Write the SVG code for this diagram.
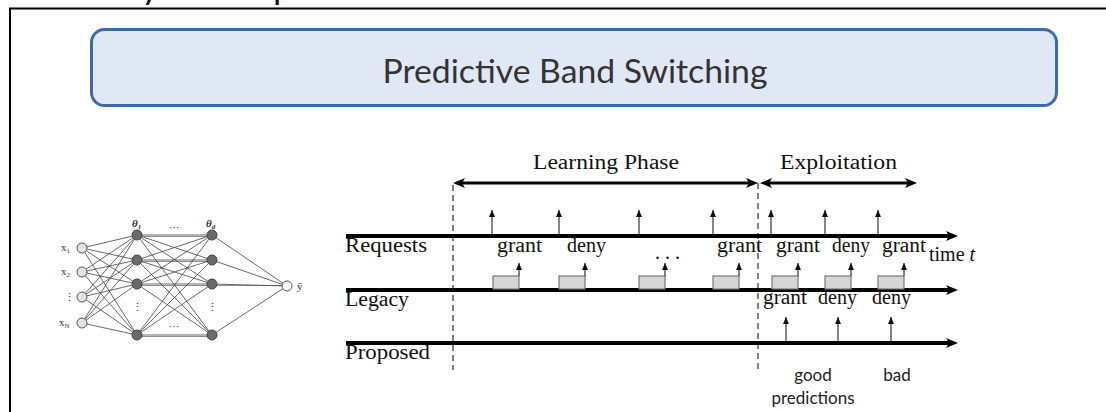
<svg xmlns="http://www.w3.org/2000/svg" width="1106" height="412" viewBox="0 0 1106 412">
<style>
.serif{font-family:"Liberation Serif","DejaVu Serif",serif;fill:#111;}
.lbl{font-size:20px;}
.sans{font-family:Lato,"Open Sans",sans-serif;fill:#222;}
.tl{stroke:#000;stroke-width:4;fill:none;}
.ph{stroke:#000;stroke-width:3;fill:none;}
.req{stroke:#333;stroke-width:1.2;fill:none;}
.dash{stroke:#000;stroke-width:1;stroke-dasharray:6 4;fill:none;}
.box{fill:#d6d6d6;stroke:#777;stroke-width:1.2;}
.nn{stroke:#444;stroke-width:0.8;fill:none;}
.in{fill:#e2e2e2;stroke:#555;stroke-width:1;}
.hid{fill:#6a6a6a;stroke:#444;stroke-width:1;}
.out{fill:#fff;stroke:#555;stroke-width:1;}
.nnl{font-family:"Liberation Serif","DejaVu Serif",serif;font-size:11px;fill:#333;}
</style>
<defs>
<marker id="big" viewBox="0 0 12 10" refX="4" refY="5" markerWidth="12" markerHeight="10" markerUnits="userSpaceOnUse" orient="auto-start-reverse"><path d="M0,0 L12,5 L0,10 L3,5 z" fill="#000"/></marker>
<marker id="sm" viewBox="0 0 7 6" refX="7" refY="3" markerWidth="7" markerHeight="6" markerUnits="userSpaceOnUse" orient="auto"><path d="M0,0 L7,3 L0,6 z" fill="#111"/></marker>
</defs>
<rect width="1106" height="412" fill="#fff"/>
<!-- cut-off header text fragments -->
<text x="141" y="-1" class="sans" style="font-size:36px;fill:#111">y</text>
<text x="273" y="-1" class="sans" style="font-size:36px;fill:#111">p</text>
<!-- frame -->
<path d="M10,420 L10,8.5 L1110,8.5" fill="none" stroke="#000" stroke-width="2"/>
<!-- title -->
<g id="title">
<rect x="91.5" y="29.5" width="965" height="76" rx="13" fill="#e1e8f5" stroke="#3d6aab" stroke-width="3"/>
<text x="575" y="83" text-anchor="middle" class="sans" style="font-size:33px;fill:#333" textLength="385" lengthAdjust="spacingAndGlyphs">Predictive Band Switching</text>
</g>
<!-- neural network -->
<g id="nn">
<g class="nn">
<path d="M82,248 L137,235 M82,248 L137,260 M82,248 L137,284 M82,248 L137,335
M82,272 L137,235 M82,272 L137,260 M82,272 L137,284 M82,272 L137,335
M82,297 L137,235 M82,297 L137,260 M82,297 L137,284 M82,297 L137,335
M82,323 L137,235 M82,323 L137,260 M82,323 L137,284 M82,323 L137,335
M137,235 L212,235 M137,235 L212,260 M137,235 L212,284 M137,235 L212,335
M137,260 L212,235 M137,260 L212,260 M137,260 L212,284 M137,260 L212,335
M137,284 L212,235 M137,284 L212,260 M137,284 L212,284 M137,284 L212,335
M137,335 L212,235 M137,335 L212,260 M137,335 L212,284 M137,335 L212,335
M212,235 L287,286 M212,260 L287,286 M212,284 L287,286 M212,335 L287,286"/>
<path d="M137,236.5 L212,236.5 M137,261.5 L212,261.5 M137,285.5 L212,285.5 M137,336.5 L212,336.5 M212,285.5 L287,285.5" stroke-width="0.6"/>
</g>
<circle cx="82" cy="248" r="5" class="in"/>
<circle cx="82" cy="272" r="5" class="in"/>
<circle cx="82" cy="297" r="5" class="in"/>
<circle cx="82" cy="323" r="5" class="in"/>
<circle cx="137" cy="235" r="5" class="hid"/>
<circle cx="137" cy="260" r="5" class="hid"/>
<circle cx="137" cy="284" r="5" class="hid"/>
<circle cx="137" cy="335" r="5" class="hid"/>
<circle cx="212" cy="235" r="5" class="hid"/>
<circle cx="212" cy="260" r="5" class="hid"/>
<circle cx="212" cy="284" r="5" class="hid"/>
<circle cx="212" cy="335" r="5" class="hid"/>
<circle cx="287" cy="286" r="5" class="out"/>
<text x="61" y="251" class="nnl">x<tspan font-size="7" dy="2">1</tspan></text>
<text x="61" y="275" class="nnl">x<tspan font-size="7" dy="2">2</tspan></text>
<text x="64" y="301" class="nnl">⋮</text>
<text x="59" y="326" class="nnl">x<tspan font-size="7" dy="2">N</tspan></text>
<text x="132" y="227" class="nnl" style="font-weight:bold;font-style:italic">θ<tspan font-size="7" dy="2">1</tspan></text>
<text x="206" y="227" class="nnl" style="font-weight:bold;font-style:italic">θ<tspan font-size="7" dy="2">d</tspan></text>
<text x="297" y="290" class="nnl">ŷ</text>
<text x="174" y="231" class="nnl" text-anchor="middle" fill="#777">···</text>
<text x="174" y="330" class="nnl" text-anchor="middle" fill="#777">···</text>
<text x="137" y="311" class="nnl" text-anchor="middle" fill="#777">⋮</text>
<text x="212" y="311" class="nnl" text-anchor="middle" fill="#777">⋮</text>
</g>
<!-- timeline connectors -->
<g id="connectors">
<path class="dash" d="M453,185 L453,370"/>
<path class="dash" d="M758,183 L758,370"/>
<path class="ph" d="M461,183 L750,183" marker-start="url(#big)" marker-end="url(#big)"/>
<path class="ph" d="M768,183 L909,183" marker-start="url(#big)" marker-end="url(#big)"/>
<path class="tl" d="M346,236 L950,236" marker-end="url(#big)"/>
<path class="tl" d="M346,290 L950,290" marker-end="url(#big)"/>
<path class="tl" d="M346,343 L950,343" marker-end="url(#big)"/>
<g class="req">
<path d="M492,234 L492,210" marker-end="url(#sm)"/>
<path d="M559,234 L559,210" marker-end="url(#sm)"/>
<path d="M639,234 L639,210" marker-end="url(#sm)"/>
<path d="M713,234 L713,210" marker-end="url(#sm)"/>
<path d="M771,234 L771,210" marker-end="url(#sm)"/>
<path d="M825,234 L825,210" marker-end="url(#sm)"/>
<path d="M878,234 L878,210" marker-end="url(#sm)"/>
</g>
<g>
<rect class="box" x="493" y="276" width="26" height="13"/>
<rect class="box" x="559" y="276" width="26" height="13"/>
<rect class="box" x="639" y="276" width="26" height="13"/>
<rect class="box" x="713" y="276" width="26" height="13"/>
<rect class="box" x="772" y="276" width="26" height="13"/>
<rect class="box" x="825" y="276" width="26" height="13"/>
<rect class="box" x="878" y="276" width="26" height="13"/>
</g>
<g class="req">
<path d="M519,276 L519,263" marker-end="url(#sm)"/>
<path d="M585,276 L585,263" marker-end="url(#sm)"/>
<path d="M665,276 L665,263" marker-end="url(#sm)"/>
<path d="M739,276 L739,263" marker-end="url(#sm)"/>
<path d="M798,276 L798,263" marker-end="url(#sm)"/>
<path d="M851,276 L851,263" marker-end="url(#sm)"/>
<path d="M904,276 L904,263" marker-end="url(#sm)"/>
</g>
<g class="req">
<path d="M786,341 L786,317" marker-end="url(#sm)"/>
<path d="M838,341 L838,317" marker-end="url(#sm)"/>
<path d="M891,341 L891,317" marker-end="url(#sm)"/>
</g>
</g>
<!-- labels -->
<g id="labels" class="serif lbl">
<text x="533" y="169" textLength="146" lengthAdjust="spacingAndGlyphs">Learning Phase</text>
<text x="780" y="169" textLength="117" lengthAdjust="spacingAndGlyphs">Exploitation</text>
<text x="345" y="252" textLength="82" lengthAdjust="spacingAndGlyphs">Requests</text>
<text x="345" y="306" textLength="64" lengthAdjust="spacingAndGlyphs">Legacy</text>
<text x="345" y="359" textLength="85" lengthAdjust="spacingAndGlyphs">Proposed</text>
<text x="497" y="252" textLength="45" lengthAdjust="spacingAndGlyphs">grant</text>
<text x="567" y="252" textLength="39" lengthAdjust="spacingAndGlyphs">deny</text>
<text x="655" y="259">. . .</text>
<text x="717" y="252" textLength="45" lengthAdjust="spacingAndGlyphs">grant</text>
<text x="776" y="252" textLength="44" lengthAdjust="spacingAndGlyphs">grant</text>
<text x="832" y="252" textLength="38" lengthAdjust="spacingAndGlyphs">deny</text>
<text x="882" y="252" textLength="44" lengthAdjust="spacingAndGlyphs">grant</text>
<text x="929" y="261">time <tspan font-style="italic">t</tspan></text>
<text x="763" y="304" textLength="44" lengthAdjust="spacingAndGlyphs">grant</text>
<text x="818" y="304" textLength="39" lengthAdjust="spacingAndGlyphs">deny</text>
<text x="872" y="304" textLength="39" lengthAdjust="spacingAndGlyphs">deny</text>
</g>
<g id="notes" class="sans" style="font-size:17px">
<text x="813" y="381" text-anchor="middle">good</text>
<text x="813" y="404" text-anchor="middle">predictions</text>
<text x="897" y="381" text-anchor="middle">bad</text>
</g>
</svg>
